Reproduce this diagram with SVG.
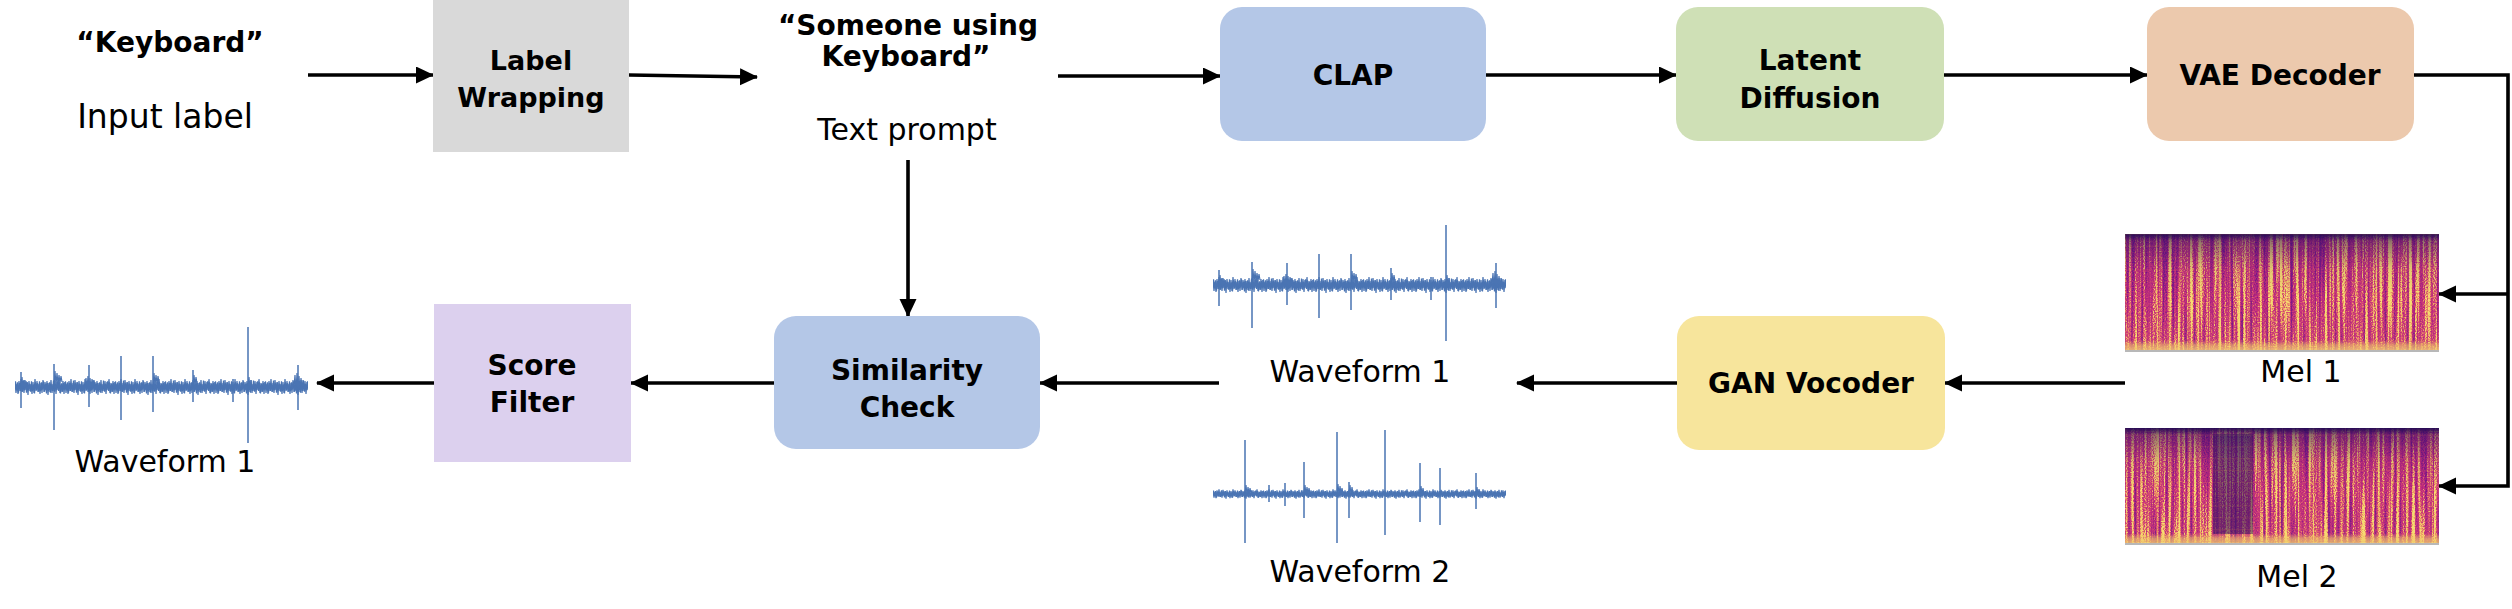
<svg xmlns="http://www.w3.org/2000/svg" xmlns:xlink="http://www.w3.org/1999/xlink" width="2512" height="609" viewBox="0 0 2512 609">
<style>
  .b{font-family:"DejaVu Sans","Liberation Sans",sans-serif;font-weight:bold;font-size:28px;fill:#000;text-anchor:middle}
  .r{font-family:"DejaVu Sans","Liberation Sans",sans-serif;font-size:30px;fill:#000;text-anchor:middle}
  .c{stroke:#000;stroke-width:3.6;fill:none}
  .a{marker-end:url(#arr)}
  .wv{stroke:#4a74b3;stroke-width:1.2;fill:none;stroke-linejoin:bevel}
  .sp{stroke:#4a74b3;stroke-width:1.5;fill:none}
</style>
<defs>
  <marker id="arr" markerUnits="userSpaceOnUse" markerWidth="20" markerHeight="18" refX="17" refY="8.5" orient="auto">
    <path d="M0,0 L18,8.5 L0,17 z" fill="#000"/>
  </marker>
  <path id="noise" class="wv" d="M0,-5 L1,6 L2,-3 L3,7 L4,-6 L5,4 L6,-8 L7,5 L8,-4 L9,6 L10,-7 L11,3 L12,-5 L13,8 L14,-6 L15,4 L16,-3 L17,7 L18,-5 L19,6 L20,-8 L21,4 L22,-6 L23,5 L24,-3 L25,7 L26,-4 L27,6 L28,-7 L29,5 L30,-5 L31,3 L32,-6 L33,8 L34,-4 L35,5 L36,-7 L37,6 L38,-3 L39,4 L40,-6 L41,7 L42,-5 L43,3 L44,-8 L45,6 L46,-4 L47,5 L48,-6 L49,7 L50,-5"/>
  <g id="noiseRow">
    <use xlink:href="#noise" x="0"/><use xlink:href="#noise" x="50"/><use xlink:href="#noise" x="100"/>
    <use xlink:href="#noise" x="150"/><use xlink:href="#noise" x="200"/><use xlink:href="#noise" x="250"/>
    <use xlink:href="#noise" transform="translate(-24.5,0) scale(1,-0.8)"/>
    <use xlink:href="#noise" transform="translate(25.5,0) scale(1,-0.8)"/>
    <use xlink:href="#noise" transform="translate(75.5,0) scale(1,-0.8)"/>
    <use xlink:href="#noise" transform="translate(125.5,0) scale(1,-0.8)"/>
    <use xlink:href="#noise" transform="translate(175.5,0) scale(1,-0.8)"/>
    <use xlink:href="#noise" transform="translate(225.5,0) scale(1,-0.8)"/>
    <use xlink:href="#noise" transform="translate(275.5,0) scale(1,-0.8)"/>
  </g>
  <clipPath id="wclip"><rect x="0" y="-80" width="293" height="160"/></clipPath>
  <g id="wave1">
    <g clip-path="url(#wclip)"><use xlink:href="#noiseRow"/></g>
    <path class="sp" d="M6,-15V21 M39,-23V43 M74,-22V20 M106,-31V33 M138,-31V25 M178,-17V15 M218,-8V15 M233,-60V56 M283,-22V23"/>
    <path class="wv" d="M6,0 l1,-10 l1,12 l1,-9 l1,8 l1,-7 l1,6 M39,0 l1,-16 l1,14 l1,-12 l1,11 l1,-9 l1,8 l1,-7 l1,6 M70,0 l1,-9 l1,11 l1,-13 l1,14 l1,-12 l1,10 l1,-9 l1,8 l1,-7 l1,6 M138,0 l1,-14 l1,12 l1,-10 l1,9 l1,-8 l1,7 M178,0 l1,-12 l1,10 l1,-8 l1,7 M233,0 l1,-10 l1,12 l1,-9 l1,8 M279,0 l1,-12 l1,16 l1,-18 l1,19 l1,-16 l1,14 l1,-12 l1,10 l1,-8 l1,7"/>
  </g>
  <g id="wave2">
    <g clip-path="url(#wclip)" transform="scale(1,0.6)"><use xlink:href="#noiseRow"/></g>
    <path class="sp" d="M32,-54V49 M56,-9V8 M72,-11V12 M91,-32V24 M124,-62V49 M136,-12V24 M172,-64V41 M207,-31V28 M227,-26V31 M263,-21V15"/>
    <path class="wv" d="M32,0 l1,-9 l1,10 l1,-8 l1,7 l1,-6 l1,5 M91,0 l1,-9 l1,10 l1,-8 l1,7 l1,-6 l1,5 M124,0 l1,-10 l1,11 l1,-9 l1,8 l1,-6 l1,5 M136,0 l1,-9 l1,10 l1,-8 l1,7 M207,0 l1,-8 l1,9 l1,-7 l1,6 M263,0 l1,-7 l1,8 l1,-6 l1,5"/>
  </g>
  <filter id="specF" x="0" y="0" width="1" height="1" color-interpolation-filters="sRGB">
    <feTurbulence type="fractalNoise" baseFrequency="0.32 0.006" numOctaves="2" seed="4" result="t1"/>
    <feColorMatrix in="t1" type="matrix" values="1 0 0 0 0  1 0 0 0 0  1 0 0 0 0  0 0 0 0 1" result="s"/>
    <feTurbulence type="fractalNoise" baseFrequency="0.9 0.8" numOctaves="1" seed="9" result="t2"/>
    <feColorMatrix in="t2" type="matrix" values="1 0 0 0 0  1 0 0 0 0  1 0 0 0 0  0 0 0 0 1" result="k"/>
    <feComposite in="s" in2="k" operator="arithmetic" k1="0" k2="0.75" k3="0.4" k4="-0.07"/>
    <feColorMatrix type="matrix" values="2.8 0 0 0 -0.82  2.8 0 0 0 -0.82  2.8 0 0 0 -0.82  0 0 0 0 1"/>
    <feComponentTransfer>
      <feFuncR type="table" tableValues="0.48 0.65 0.74 0.82 0.93 0.97"/>
      <feFuncG type="table" tableValues="0.10 0.13 0.17 0.24 0.58 0.87"/>
      <feFuncB type="table" tableValues="0.53 0.51 0.49 0.47 0.40 0.45"/>
    </feComponentTransfer>
    <feComposite in2="SourceGraphic" operator="in"/>
  </filter>
  <linearGradient id="specG" x1="0" y1="0" x2="0" y2="1">
    <stop offset="0" stop-color="#1e0a52" stop-opacity="0.95"/>
    <stop offset="0.06" stop-color="#2a0c62" stop-opacity="0.5"/>
    <stop offset="0.3" stop-color="#3a0f6a" stop-opacity="0.1"/>
    <stop offset="0.55" stop-color="#3a0f6a" stop-opacity="0"/>
    <stop offset="0.9" stop-color="#f0c060" stop-opacity="0.05"/>
    <stop offset="0.94" stop-color="#f0c868" stop-opacity="0.6"/>
    <stop offset="1" stop-color="#f3d678" stop-opacity="0.85"/>
  </linearGradient>
  <pattern id="grid" patternUnits="userSpaceOnUse" x="2125" y="234" width="31.4" height="11.8">
    <path d="M0,0H31.4 M0,0V11.8" stroke="#d08040" stroke-width="0.8" opacity="0.35" fill="none"/>
  </pattern>
</defs>

<g id="connectors">
  <line class="c a" x1="308" y1="75" x2="433" y2="75"/>
  <line class="c a" x1="629" y1="75" x2="757" y2="77"/>
  <line class="c a" x1="1058" y1="76" x2="1220" y2="76"/>
  <line class="c a" x1="1486" y1="75" x2="1676" y2="75"/>
  <line class="c a" x1="1944" y1="75" x2="2147" y2="75"/>
  <polyline class="c a" points="2414,75 2508,75 2508,486 2439,486"/>
  <line class="c a" x1="2508" y1="294" x2="2439" y2="294"/>
  <line class="c a" x1="2125" y1="383" x2="1945" y2="383"/>
  <line class="c a" x1="1677" y1="383" x2="1517" y2="383"/>
  <line class="c a" x1="1219" y1="383" x2="1040" y2="383"/>
  <line class="c a" x1="774" y1="383" x2="631" y2="383"/>
  <line class="c a" x1="434" y1="383" x2="317" y2="383"/>
  <line class="c a" x1="908" y1="160" x2="908" y2="316"/>
</g>

<g id="input-label">
  <text class="b" x="170" y="52">“Keyboard”</text>
  <text class="r" x="165" y="128" style="font-size:33px">Input label</text>
</g>

<g id="label-wrapping">
  <rect x="433" y="0" width="196" height="152" fill="#d9d9d9"/>
  <text class="b" x="531" y="70" style="font-size:27px">Label</text>
  <text class="b" x="531" y="107" style="font-size:27px">Wrapping</text>
</g>

<g id="text-prompt">
  <text class="b" x="908" y="35">“Someone using</text>
  <text class="b" x="906" y="66">Keyboard”</text>
  <text class="r" x="907" y="140">Text prompt</text>
</g>

<g id="clap">
  <rect x="1220" y="7" width="266" height="134" rx="22" fill="#b4c7e7"/>
  <text class="b" x="1353" y="85">CLAP</text>
</g>

<g id="latent-diffusion">
  <rect x="1676" y="7" width="268" height="134" rx="22" fill="#cfe0b6"/>
  <text class="b" x="1810" y="70">Latent</text>
  <text class="b" x="1810" y="108">Diffusion</text>
</g>

<g id="vae-decoder">
  <rect x="2147" y="7" width="267" height="134" rx="22" fill="#ecc9ad"/>
  <text class="b" x="2280" y="85">VAE Decoder</text>
</g>

<g id="mel1">
  <rect x="2125" y="234" width="314" height="118" fill="#a02a7a" filter="url(#specF)"/>
  <rect x="2125" y="234" width="314" height="118" fill="url(#specG)"/>
  <rect x="2125" y="234" width="314" height="118" fill="url(#grid)"/>
  <rect x="2125" y="350" width="314" height="2" fill="#b8b8b8"/>
  <text class="r" x="2301" y="382">Mel 1</text>
</g>

<g id="mel2">
  <rect x="2125" y="428" width="314" height="117" fill="#a02a7a" filter="url(#specF)"/>
  <rect x="2213" y="434" width="40" height="100" fill="#2a0c62" opacity="0.55"/>
  <rect x="2125" y="428" width="314" height="117" fill="url(#specG)"/>
  <rect x="2125" y="428" width="314" height="117" fill="url(#grid)"/>
  <rect x="2125" y="543" width="314" height="2" fill="#b8b8b8"/>
  <text class="r" x="2297" y="587">Mel 2</text>
</g>

<g id="gan-vocoder">
  <rect x="1677" y="316" width="268" height="134" rx="22" fill="#f7e59c"/>
  <text class="b" x="1811" y="393">GAN Vocoder</text>
</g>

<g id="waveforms">
  <use xlink:href="#wave1" transform="translate(1213,285)"/>
  <text class="r" x="1360" y="382">Waveform 1</text>
  <use xlink:href="#wave2" transform="translate(1213,494)"/>
  <text class="r" x="1360" y="582">Waveform 2</text>
</g>

<g id="similarity-check">
  <rect x="774" y="316" width="266" height="133" rx="22" fill="#b4c7e7"/>
  <text class="b" x="907" y="380">Similarity</text>
  <text class="b" x="907" y="417">Check</text>
</g>

<g id="score-filter">
  <rect x="434" y="304" width="197" height="158" fill="#dcd0ee"/>
  <text class="b" x="532" y="375">Score</text>
  <text class="b" x="532" y="412">Filter</text>
</g>

<g id="output">
  <use xlink:href="#wave1" transform="translate(15,387)"/>
  <text class="r" x="165" y="472">Waveform 1</text>
</g>
</svg>
